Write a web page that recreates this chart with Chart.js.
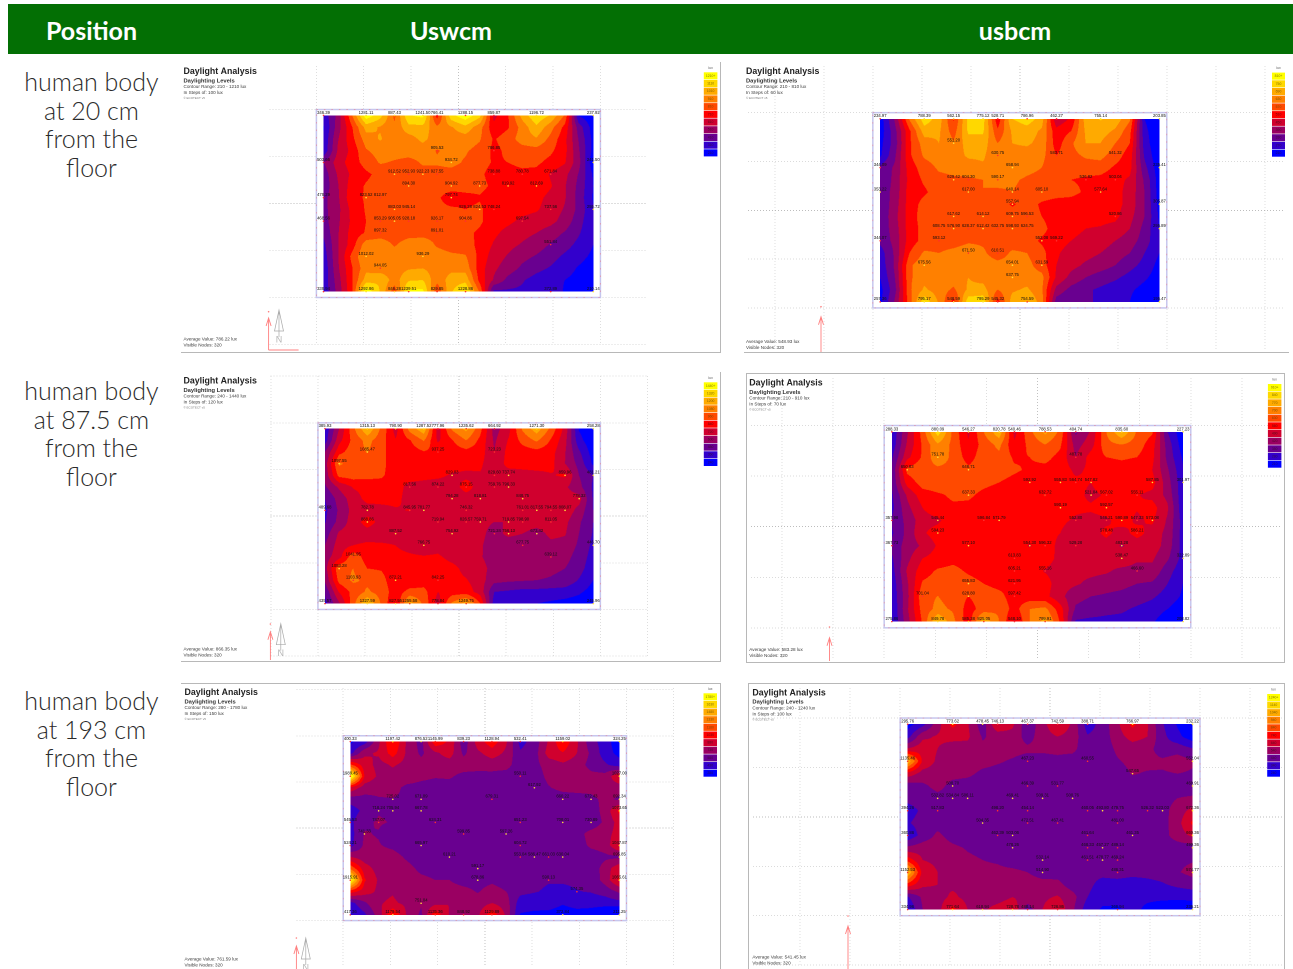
<!DOCTYPE html>
<html>
<head>
<meta charset="utf-8">
<script src="https://cdn.jsdelivr.net/npm/chart.js@4"></script>
<style>
  html, body { margin: 0; background: #fff; }
  body { width: 1293px; height: 969px; position: relative; overflow: hidden; }
  #header { position: absolute; left: 8px; top: 4px; width: 1285px; height: 50px; background: #036f04; }
  .head { position: absolute; top: 4px; height: 50px; color: #fff; font: 700 25px/53px Lato, sans-serif; text-align: center; }
  .rowlabel { position: absolute; left: 8px; width: 167px; text-align: center; color: #2a2a2a; font: 300 25px/28.7px Lato, sans-serif; }
  .panel { position: absolute; box-sizing: border-box; }
  .panel canvas { position: absolute; left: 0; top: 0; filter: blur(0.35px); }
</style>
</head>
<body>
<div id="header"></div>
<div class="head" style="left:8px;width:167px">Position</div>
<div class="head" style="left:175px;width:552px">Uswcm</div>
<div class="head" style="left:740px;width:550px">usbcm</div>
<div class="rowlabel" style="top:67px">human body<br>at 20 cm<br>from the<br>floor</div>
<div class="rowlabel" style="top:376px">human body<br>at 87.5 cm<br>from the<br>floor</div>
<div class="rowlabel" style="top:686px">human body<br>at 193 cm<br>from the<br>floor</div>
<script>
const bandColors = ["#0000ff", "#3300cc", "#690090", "#9a0062", "#d0002e", "#ff0000", "#ff4a00", "#ff8000", "#ffaa00", "#ffd800", "#ffff00"];

// Lux at each of the 20 x 16 analysis nodes
const luxA = [
  [346,540,900,1281,1150,887,1200,1241,766,1180,1288,1150,680,800,1050,1196,1100,900,300,238],
  [300,560,800,1050,1000,930,1080,1080,930,1000,1080,950,740,800,950,1090,950,780,460,260],
  [320,600,780,960,1020,950,960,1040,950,960,960,920,800,860,960,1000,880,740,500,280],
  [330,620,740,900,950,950,950,950,905,930,920,880,786,830,860,870,830,740,520,280],
  [503,660,760,850,920,900,880,920,920,934,900,850,800,810,830,830,780,720,540,241],
  [450,620,730,790,840,880,890,880,880,880,860,830,770,780,790,780,700,640,500,300],
  [440,600,760,820,850,870,890,870,860,860,850,840,790,780,770,780,720,620,480,310],
  [479,590,780,820,830,860,880,860,830,750,780,800,760,760,760,740,680,620,470,300],
  [480,580,740,820,860,890,890,870,840,830,810,830,750,750,740,720,670,600,480,320],
  [469,590,730,810,850,890,900,880,880,880,870,830,750,730,690,670,640,570,450,320],
  [430,600,750,820,860,860,870,880,880,870,840,790,730,680,640,610,560,500,420,320],
  [380,600,760,970,970,900,960,960,900,870,860,780,700,640,600,560,500,450,380,310],
  [350,600,840,1010,950,960,980,970,950,930,920,780,660,600,540,500,450,390,340,290],
  [330,590,800,980,950,960,1000,1010,960,980,970,760,630,560,490,440,400,350,300,260],
  [340,560,800,1060,1100,960,1100,1110,940,1060,1080,780,600,480,420,370,340,310,280,240],
  [340,540,790,1293,1100,846,1240,1240,830,1100,1229,900,380,390,390,380,373,300,220,210]
];
const luxB = [
  [235,400,640,789,720,562,770,775,529,750,787,720,462,520,720,755,730,640,270,204],
  [235,370,560,720,700,600,760,760,580,700,720,680,530,570,700,720,680,590,290,210],
  [250,360,560,660,690,640,720,720,630,690,700,670,540,620,690,690,630,570,300,215],
  [260,380,560,640,660,660,700,700,640,670,660,650,570,610,640,650,600,540,320,220],
  [344,400,540,600,640,650,660,680,680,680,650,630,580,600,600,600,560,530,350,230],
  [330,410,530,580,610,620,620,630,650,640,620,610,590,570,560,550,530,500,380,240],
  [353,410,540,560,600,610,620,630,620,630,610,610,600,590,560,550,530,490,390,240],
  [340,420,540,590,610,610,620,620,610,560,600,560,540,540,530,530,530,490,390,250],
  [340,430,540,600,610,620,620,620,620,610,600,570,540,530,530,530,525,470,390,260],
  [345,420,540,590,620,610,625,620,620,620,620,590,540,530,510,505,490,450,370,270],
  [344,410,540,590,600,600,620,620,610,600,600,560,540,510,490,480,450,420,360,280],
  [300,400,570,640,630,650,670,640,600,640,630,590,520,480,470,450,420,390,330,270],
  [290,400,620,670,660,660,670,660,650,650,650,600,510,470,440,420,390,350,310,250],
  [270,390,620,670,650,660,690,670,660,660,660,650,500,430,390,360,340,310,280,240],
  [250,370,620,700,660,620,700,710,630,680,700,640,430,370,340,320,300,280,250,225],
  [250,400,600,795,680,549,790,795,545,720,755,660,360,330,330,330,320,270,215,200]
];
const luxC = [
  [386,720,1050,1315,1050,791,1130,1287,778,1100,1236,1000,665,800,1100,1271,1050,800,350,258],
  [420,800,1000,1120,1010,850,950,1090,820,950,1080,930,700,850,1000,1100,950,760,400,270],
  [600,920,1030,1085,1000,880,900,950,937,900,920,900,723,880,900,920,890,730,500,300],
  [660,1097,1040,1020,1000,880,890,900,900,880,870,860,760,880,890,900,880,720,560,340],
  [640,1000,1020,1000,980,890,880,870,860,829,820,830,790,780,790,800,830,860,600,481],
  [580,740,850,880,900,880,810,800,790,800,875,800,760,790,780,770,770,740,640,460],
  [480,650,780,880,880,870,800,780,780,790,800,810,780,780,830,780,760,770,770,470],
  [450,620,760,782,800,830,845,790,770,750,746,760,740,760,760,800,790,800,680,480],
  [470,640,780,890,800,780,770,760,720,750,800,740,720,720,790,770,800,750,620,480],
  [540,740,780,790,770,780,770,750,740,750,750,740,690,740,720,670,750,730,600,470],
  [600,780,840,860,860,840,800,760,790,750,740,730,680,670,670,640,690,680,580,450],
  [660,800,1040,900,880,870,860,850,860,800,770,730,670,650,640,640,640,640,550,430],
  [670,1053,1080,960,950,890,880,890,900,880,800,760,680,650,640,640,620,600,530,400],
  [620,1000,1104,1050,1000,880,870,900,860,880,850,770,640,620,610,600,590,570,470,360],
  [500,850,1000,1100,1030,900,1000,1000,840,900,900,790,480,460,440,440,430,420,380,310],
  [436,700,1040,1327,1060,828,1255,1050,779,1100,1250,960,410,400,390,360,340,320,300,246]
];
const luxD = [
  [288,480,660,880,680,546,700,821,540,680,789,680,405,500,700,836,690,640,350,227],
  [300,500,640,760,680,570,660,720,570,650,700,640,460,530,680,700,670,590,390,240],
  [340,540,640,752,680,600,670,680,620,630,650,610,488,590,630,640,630,580,400,270],
  [360,650,680,680,680,646,670,660,640,620,610,600,545,575,590,600,590,560,430,290],
  [360,590,660,670,660,650,640,630,610,593,600,580,575,560,600,600,600,588,450,302],
  [340,500,600,620,640,637,620,610,600,600,633,590,580,545,567,590,565,540,470,300],
  [330,470,560,610,620,620,610,610,600,600,600,590,570,570,593,590,565,590,500,300],
  [358,440,530,545,610,610,597,590,600,600,590,570,553,540,546,591,547,573,480,320],
  [340,440,550,594,620,610,600,600,600,590,580,560,530,530,578,530,586,530,470,320],
  [368,450,500,570,590,577,600,590,590,554,596,540,529,530,530,483,520,530,460,320],
  [340,470,560,590,610,600,600,590,614,600,590,540,520,520,510,538,500,500,430,323],
  [320,500,600,640,650,620,600,600,605,590,555,530,510,510,500,470,467,470,380,300],
  [300,480,640,660,680,656,630,610,622,600,590,520,500,470,450,440,420,410,350,280],
  [290,470,680,701,670,629,665,650,597,590,580,510,440,420,410,400,380,360,320,270],
  [280,480,660,720,690,600,660,690,600,700,720,590,410,390,370,360,340,320,280,240],
  [276,460,640,850,720,585,825,700,548,700,800,620,340,330,330,330,320,290,230,209]
];
const luxE = [
  [400,500,850,1197,850,670,1146,1000,640,950,1129,900,532,640,900,1159,900,640,500,324],
  [520,850,900,1100,850,700,850,950,700,850,950,850,600,660,950,1020,880,700,500,380],
  [1200,950,830,900,830,790,800,800,800,780,800,800,620,690,790,850,800,680,600,500],
  [1989,1020,850,820,800,760,740,750,690,690,680,650,620,650,770,780,800,770,780,1027],
  [1000,800,770,770,700,690,680,670,650,640,640,640,620,640,720,770,780,780,830,800],
  [650,680,720,725,710,670,660,660,640,640,640,640,640,640,650,660,670,690,770,700],
  [500,620,718,706,660,668,650,640,630,620,620,620,630,620,620,640,640,660,780,1074],
  [545,700,747,720,640,620,624,620,600,600,600,620,640,630,610,640,640,640,760,950],
  [520,741,720,620,610,620,610,600,600,600,600,597,610,610,620,620,680,780,820,950],
  [524,760,740,700,650,666,620,620,600,600,600,600,605,610,610,630,660,760,800,1048],
  [880,800,780,780,710,650,620,610,600,600,610,590,590,590,610,630,640,650,700,696],
  [1300,950,820,780,770,700,680,640,620,620,640,620,600,600,600,600,620,630,800,1000],
  [1916,1050,860,840,790,760,730,730,680,679,700,660,620,610,590,600,610,620,800,1065],
  [1100,950,850,870,800,770,780,780,770,720,790,730,620,590,560,540,574,590,640,760],
  [520,700,870,900,850,751,840,880,800,800,880,800,500,490,480,440,480,490,500,520],
  [417,550,800,1180,860,700,1135,870,850,850,1130,850,420,400,400,373,380,350,260,212]
];
const luxF = [
  [296,400,600,774,650,478,746,660,467,600,743,620,389,480,620,767,650,450,330,232],
  [400,620,650,660,660,530,570,600,500,590,640,600,450,480,600,680,640,470,370,280],
  [650,700,640,610,600,560,570,570,560,560,570,570,470,480,560,590,580,480,500,450],
  [1135,720,620,600,590,570,550,530,500,500,510,490,460,480,530,570,570,560,590,552],
  [700,600,590,570,560,520,510,500,490,480,480,480,460,470,490,548,530,530,540,530],
  [480,520,570,510,500,490,490,480,470,480,500,480,470,470,480,490,490,490,480,461],
  [470,490,510,510,500,490,480,470,470,490,480,480,470,470,480,490,490,500,540,560],
  [395,460,490,490,480,490,498,480,454,470,480,480,460,470,480,490,500,500,590,670],
  [430,480,500,500,490,504,480,470,470,470,470,470,470,470,480,490,500,500,600,760],
  [360,480,560,500,480,480,470,490,470,470,470,470,460,470,470,461,480,500,590,660],
  [560,590,590,560,530,510,490,480,470,480,480,470,470,460,490,470,470,490,490,490],
  [800,640,620,600,560,540,530,500,490,510,500,480,460,480,470,460,470,480,520,530],
  [1152,700,640,620,590,560,560,560,540,515,500,480,470,470,486,470,470,480,530,575],
  [800,660,640,620,620,600,590,590,570,560,570,490,470,400,400,390,410,430,460,480],
  [430,560,600,660,610,590,590,640,600,620,650,580,440,370,360,360,360,360,370,380],
  [335,540,600,772,640,619,680,729,488,640,727,560,380,330,330,367,320,290,250,236]
];

// Labelled sensor nodes: [column, row, lux]
const sensorsA = [[0,0,346.39],[3,0,1281.11],[5,0,887.43],[7,0,1241.50],[8,0,766.41],[10,0,1288.15],[12,0,859.87],[15,0,1196.72],[19,0,237.92],[8,3,905.53],[12,3,786.85],[0,4,503.66],[9,4,934.72],[19,4,241.50],[5,5,912.52],[6,5,952.93],[7,5,922.23],[8,5,927.55],[12,5,738.88],[14,5,780.78],[16,5,671.84],[6,6,894.30],[9,6,904.92],[11,6,877.73],[13,6,819.92],[15,6,812.69],[0,7,479.29],[3,7,823.52],[4,7,812.97],[9,7,797.74],[5,8,883.03],[6,8,945.14],[10,8,826.28],[11,8,824.53],[12,8,748.24],[16,8,737.56],[19,8,255.72],[0,9,468.56],[4,9,853.29],[5,9,905.05],[6,9,928.18],[8,9,926.17],[10,9,904.86],[14,9,697.54],[4,10,897.32],[8,10,891.01],[16,11,551.84],[3,12,1012.02],[7,12,936.29],[4,13,944.05],[0,15,339.94],[3,15,1292.86],[5,15,846.28],[6,15,1239.51],[8,15,829.85],[10,15,1228.86],[16,15,372.89],[19,15,210.14]];
const sensorsB = [[0,0,234.97],[3,0,788.39],[5,0,562.15],[7,0,775.12],[8,0,528.71],[10,0,786.96],[12,0,462.27],[15,0,755.14],[19,0,203.85],[5,2,551.20],[8,3,630.75],[12,3,583.71],[16,3,541.32],[0,4,344.09],[9,4,658.94],[19,4,235.41],[5,5,629.42],[6,5,604.30],[8,5,590.17],[14,5,536.82],[16,5,503.04],[0,6,353.22],[6,6,617.00],[9,6,640.14],[11,6,605.10],[15,6,577.64],[9,7,557.94],[19,7,305.87],[5,8,617.62],[7,8,614.12],[9,8,609.75],[10,8,596.53],[16,8,520.86],[4,9,608.75],[5,9,576.90],[6,9,628.37],[7,9,612.42],[8,9,632.75],[9,9,598.93],[10,9,624.75],[19,9,295.89],[0,10,344.07],[4,10,593.12],[11,10,552.08],[12,10,569.22],[6,11,671.50],[8,11,610.51],[3,12,675.56],[9,12,654.01],[11,12,631.59],[9,13,637.75],[0,15,257.36],[3,15,795.17],[5,15,548.59],[7,15,795.29],[8,15,545.32],[10,15,754.59],[19,15,195.47]];
const sensorsC = [[0,0,385.93],[3,0,1315.13],[5,0,790.90],[7,0,1287.52],[8,0,777.96],[10,0,1235.62],[12,0,664.92],[15,0,1271.30],[19,0,258.28],[3,2,1085.47],[8,2,937.25],[12,2,723.23],[1,3,1097.55],[9,4,829.03],[12,4,829.60],[13,4,737.74],[17,4,859.96],[19,4,481.21],[6,5,817.56],[8,5,874.22],[10,5,875.15],[12,5,759.76],[13,5,796.33],[9,6,794.28],[11,6,818.81],[14,6,848.75],[18,6,778.32],[0,7,489.68],[3,7,782.78],[6,7,845.95],[7,7,781.77],[10,7,746.32],[14,7,761.01],[15,7,817.55],[16,7,794.55],[17,7,808.07],[3,8,888.86],[8,8,719.94],[10,8,826.57],[11,8,759.71],[13,8,719.85],[14,8,798.90],[16,8,811.05],[5,9,887.52],[9,9,754.92],[12,9,721.24],[13,9,756.13],[15,9,673.42],[7,10,766.75],[14,10,677.75],[19,10,446.70],[2,11,1041.95],[16,11,639.12],[1,12,1053.28],[2,13,1103.93],[5,13,872.21],[8,13,842.25],[0,15,435.57],[3,15,1327.59],[5,15,827.55],[6,15,1255.58],[8,15,778.84],[10,15,1249.75],[19,15,245.96]];
const sensorsD = [[0,0,288.33],[3,0,880.09],[5,0,546.27],[7,0,820.78],[8,0,540.46],[10,0,788.53],[12,0,404.74],[15,0,835.60],[19,0,227.23],[3,2,751.78],[12,2,487.78],[1,3,650.83],[5,3,646.71],[9,4,592.92],[11,4,555.83],[12,4,564.74],[13,4,547.82],[17,4,587.85],[19,4,301.97],[5,5,637.33],[10,5,632.72],[13,5,521.84],[14,5,567.02],[16,5,555.11],[11,6,590.19],[14,6,592.57],[0,7,357.98],[3,7,545.44],[6,7,596.84],[7,7,571.79],[12,7,552.80],[14,7,546.21],[15,7,590.89],[16,7,547.33],[17,7,573.08],[3,8,594.23],[14,8,578.48],[16,8,586.21],[0,9,367.73],[5,9,577.10],[9,9,554.30],[10,9,596.32],[12,9,529.28],[15,9,483.28],[8,10,613.83],[15,10,538.47],[19,10,322.89],[8,11,605.21],[10,11,555.16],[16,11,466.60],[5,12,655.83],[8,12,621.95],[2,13,701.04],[5,13,628.80],[8,13,597.42],[0,15,275.86],[3,15,849.78],[5,15,585.38],[6,15,825.05],[8,15,548.10],[10,15,799.91],[19,15,208.82]];
const sensorsE = [[0,0,400.33],[3,0,1197.42],[5,0,876.52],[6,0,1145.99],[8,0,839.23],[10,0,1128.94],[12,0,532.41],[15,0,1159.02],[19,0,324.25],[0,3,1989.45],[12,3,550.11],[19,3,1027.00],[13,4,617.92],[3,5,725.02],[5,5,671.09],[10,5,679.31],[15,5,660.22],[17,5,672.43],[19,5,692.34],[2,6,718.24],[3,6,705.94],[5,6,667.78],[19,6,1073.65],[0,7,545.53],[2,7,747.07],[6,7,624.31],[12,7,651.23],[15,7,708.01],[17,7,730.89],[1,8,741.33],[8,8,599.85],[11,8,597.26],[0,9,524.21],[5,9,665.97],[12,9,604.72],[19,9,1047.87],[7,10,610.21],[12,10,553.04],[13,10,586.47],[14,10,661.03],[15,10,630.04],[19,10,695.85],[9,11,591.17],[0,12,1915.91],[9,12,678.86],[14,12,590.13],[19,12,1065.61],[16,13,574.35],[5,14,751.04],[0,15,417.36],[3,15,1179.54],[6,15,1135.36],[8,15,848.92],[10,15,1129.89],[15,15,372.84],[19,15,211.25]];
const sensorsF = [[0,0,295.76],[3,0,773.62],[5,0,478.45],[6,0,746.13],[8,0,467.37],[10,0,742.59],[12,0,388.71],[15,0,766.97],[19,0,232.22],[0,3,1135.46],[8,3,467.23],[12,3,460.55],[19,3,552.04],[15,4,547.65],[3,5,508.70],[8,5,466.39],[10,5,531.77],[19,5,460.91],[2,6,532.82],[3,6,534.84],[4,6,506.11],[7,6,469.41],[9,6,509.31],[11,6,500.76],[0,7,394.26],[2,7,517.83],[6,7,498.20],[8,7,454.14],[12,7,460.05],[13,7,493.80],[14,7,479.75],[16,7,526.32],[17,7,523.03],[19,7,672.36],[5,8,504.35],[8,8,472.51],[10,8,467.41],[14,8,481.00],[0,9,360.86],[6,9,462.39],[7,9,503.06],[12,9,461.64],[15,9,461.35],[19,9,660.36],[7,10,478.26],[12,10,468.33],[13,10,457.27],[14,10,489.14],[19,10,490.36],[9,11,532.14],[12,11,461.51],[13,11,478.77],[14,11,469.24],[0,12,1152.53],[9,12,514.90],[14,12,486.31],[19,12,574.77],[0,15,334.96],[3,15,771.64],[5,15,618.94],[7,15,728.78],[8,15,488.14],[10,15,726.86],[14,15,366.94],[19,15,236.21]];

// Contour legend tick labels, low to high
const levelsA = [210,310,410,510,610,710,810,910,1010,1110,1210];
const levelsB = [210,270,330,390,450,510,570,630,690,750,810];
const levelsC = [240,360,480,600,720,840,960,1080,1200,1320,1440];
const levelsD = [210,280,350,420,490,560,630,700,770,840,910];
const levelsE = [280,430,580,730,880,1030,1180,1330,1480,1630,1780];
const levelsF = [240,340,440,540,640,740,840,940,1040,1140,1240];

const averages = [786.22, 548.93, 866.35, 583.28, 761.59, 541.45];

// Page layout of each panel, in px
const panels = [
  { lux: luxA, sensors: sensorsA, levels: levelsA, box: [181,62,540,291], plot: [323.5,114,593.3,291.3], grid: [269.7,64.3,647.5,345], legend: [703.8,72,717.4,156.7], textX: 183.5, textY: 71.7, avgY: 339, arrow: [268.6,318,350,311.7], north: 279, baseAxis: true, sides: "right bottom" },
  { lux: luxB, sensors: sensorsB, levels: levelsB, box: [744,62,545,291], plot: [877.9,117.7,1160.8,304], grid: [744,64,1288,352], legend: [1272,72.3,1285,157], textX: 746, textY: 71.7, avgY: 341.7, arrow: [821,316.7,352,306.7], sides: "bottom" },
  { lux: luxC, sensors: sensorsC, levels: levelsC, box: [181,372,540,290], plot: [325,427.3,593.3,603.3], grid: [270.4,374.3,647.5,657], legend: [703.8,382,717.4,466.3], textX: 183.5, textY: 381.3, avgY: 649, arrow: [270.4,631.7,660,624], north: 280.8, sides: "right bottom" },
  { lux: luxD, sensors: sensorsD, levels: levelsD, box: [746,373,539,290], plot: [888.7,429,1183.8,622.7], grid: [746,374,1284,662], legend: [1266.9,382.7,1280.4,467], textX: 748.3, textY: 382.3, avgY: 648.7, arrow: [828.5,636.7,660,626], sides: "top right bottom left" },
  { lux: luxE, sensors: sensorsE, levels: levelsE, box: [181,683,540,286], plot: [350.3,739.7,619.4,916.7], grid: [296.4,685,674.3,969], legend: [703.5,692,717,776], textX: 184.5, textY: 691.7, avgY: 958.3, arrow: [296.4,945,969,937], north: 305.8, sides: "top right" },
  { lux: luxF, sensors: sensorsF, levels: levelsF, box: [748,683,537,286], plot: [905.4,722,1193.5,911.3], grid: [749,685,1284,969], legend: [1266.2,692.7,1279,776], textX: 751.4, textY: 692, avgY: 956, arrow: [847,925,968,915], sides: "top left right" }
];

const textFont = '"Liberation Sans", Arial, sans-serif';
const hexRgb = (hex) => [1, 3, 5].map((i) => parseInt(hex.slice(i, i + 2), 16));
const bandRgb = bandColors.map(hexRgb);

// Filled contour bands, worked out from the node values through the chart scales
const contourPlugin = {
  id: "contours",
  beforeDatasetsDraw(chart) {
    const { ctx, scales: { x, y } } = chart;
    const nodes = chart.data.datasets[0].data;
    const levels = chart.config.options.levelsList;
    const left = x.getPixelForValue(0), right = x.getPixelForValue(19);
    const top = y.getPixelForValue(0), bottom = y.getPixelForValue(15);

    const frameL = x.getPixelForValue(-0.5), frameR = x.getPixelForValue(19.5);
    const frameT = y.getPixelForValue(-0.5), frameB = y.getPixelForValue(15.5);
    ctx.save();
    ctx.fillStyle = "#fff";
    ctx.fillRect(frameL, frameT, frameR - frameL, frameB - frameT);
    ctx.strokeStyle = "#c6c6ee";
    ctx.lineWidth = 1.5;
    ctx.strokeRect(frameL, frameT, frameR - frameL, frameB - frameT);
    ctx.strokeStyle = "rgba(255,90,90,0.5)";
    ctx.lineWidth = 0.7;
    ctx.setLineDash([1.5, 6]);
    ctx.strokeRect(frameL, frameT, frameR - frameL, frameB - frameT);
    ctx.setLineDash([]);

    const w = Math.round((right - left) * 2), h = Math.round((bottom - top) * 2);
    const off = document.createElement("canvas");
    off.width = w;
    off.height = h;
    const octx = off.getContext("2d");
    const img = octx.createImageData(w, h);
    const step = levels[1] - levels[0];
    for (let j = 0; j < h; j++) {
      const row = y.getValueForPixel(top + (j + 0.5) / 2);
      const r0 = Math.min(14, Math.floor(row)), fr = row - r0;
      for (let i = 0; i < w; i++) {
        const col = x.getValueForPixel(left + (i + 0.5) / 2);
        const c0 = Math.min(18, Math.floor(col)), fc = col - c0;
        const a = nodes[r0 * 20 + c0].lux, b = nodes[r0 * 20 + c0 + 1].lux;
        const c = nodes[(r0 + 1) * 20 + c0].lux, d = nodes[(r0 + 1) * 20 + c0 + 1].lux;
        const v = (a * (1 - fc) + b * fc) * (1 - fr) + (c * (1 - fc) + d * fc) * fr;
        const band = Math.max(0, Math.min(10, Math.floor((v - levels[0]) / step)));
        const p = (j * w + i) * 4, rgb = bandRgb[band];
        img.data[p] = rgb[0];
        img.data[p + 1] = rgb[1];
        img.data[p + 2] = rgb[2];
        img.data[p + 3] = 255;
      }
    }
    octx.putImageData(img, 0, 0);
    ctx.drawImage(off, left, top, right - left, bottom - top);
    ctx.restore();
  },
  afterDatasetsDraw(chart) {
    const { ctx, scales: { x, y } } = chart;
    ctx.save();
    ctx.font = `4.2px ${textFont}`;
    ctx.fillStyle = "#111";
    ctx.textAlign = "center";
    ctx.textBaseline = "alphabetic";
    chart.data.datasets[1].data.forEach((s) => {
      ctx.fillText(s.lux.toFixed(2), x.getPixelForValue(s.x), y.getPixelForValue(s.y) - 1.6);
    });
    ctx.restore();
  }
};

// Panel captions, colour key and site markers around the plot
const annotationPlugin = {
  id: "annotations",
  afterDraw(chart) {
    const { ctx } = chart;
    const p = chart.config.options.panel;
    const ox = p.box[0], oy = p.box[1];
    const tx = p.textX - ox, ty = p.textY - oy;
    const lo = p.levels[0], hi = p.levels[10], step = p.levels[1] - p.levels[0];
    ctx.save();
    ctx.textBaseline = "middle";
    ctx.textAlign = "left";
    ctx.fillStyle = "#222";
    ctx.font = `bold 8.8px ${textFont}`;
    ctx.fillText("Daylight Analysis", tx, ty);
    ctx.fillStyle = "#333";
    ctx.font = `bold 5.8px ${textFont}`;
    ctx.fillText("Daylighting Levels", tx, ty + 9);
    ctx.font = `4.6px ${textFont}`;
    ctx.fillStyle = "#3a3a3a";
    ctx.fillText(`Contour Range: ${lo} - ${hi} lux`, tx, ty + 15);
    ctx.fillText(`In Steps of: ${step} lux`, tx, ty + 21);
    ctx.font = `3px ${textFont}`;
    ctx.fillStyle = "#777";
    ctx.fillText("© ECOTECT v5", tx, ty + 26.5);
    ctx.font = `4.6px ${textFont}`;
    ctx.fillStyle = "#3a3a3a";
    ctx.fillText(`Average Value: ${chart.config.options.average.toFixed(2)} lux`, tx, p.avgY - oy);
    ctx.fillText("Visible Nodes: 320", tx, p.avgY - oy + 6);

    const [lx0, ly0, lx1, ly1] = p.legend;
    const rowH = (ly1 - ly0) / 11;
    ctx.textAlign = "center";
    ctx.font = `3.4px ${textFont}`;
    ctx.fillStyle = "#555";
    ctx.fillText("lux", (lx0 + lx1) / 2 - ox, ly0 - oy - 4);
    for (let i = 0; i < 11; i++) {
      const k = 10 - i;
      ctx.fillStyle = bandColors[k];
      ctx.fillRect(lx0 - ox, ly0 - oy + i * rowH + 0.3, lx1 - lx0, rowH - 0.6);
      ctx.fillStyle = k >= 6 ? "#5a4a00" : "#33111a";
      ctx.globalAlpha = 0.75;
      ctx.fillText(p.levels[k] + (k === 10 ? "+" : ""), (lx0 + lx1) / 2 - ox, ly0 - oy + (i + 0.5) * rowH);
      ctx.globalAlpha = 1;
    }

    const [ax, aTop, aBottom, aDot] = p.arrow;
    const arrowX = ax - ox;
    ctx.strokeStyle = "#ff7f7f";
    ctx.fillStyle = "#ff7f7f";
    ctx.lineWidth = 0.9;
    ctx.beginPath();
    ctx.moveTo(arrowX, aBottom - oy);
    ctx.lineTo(arrowX, aTop - oy);
    ctx.moveTo(arrowX - 2.5, aTop - oy + 8);
    ctx.lineTo(arrowX, aTop - oy);
    ctx.lineTo(arrowX + 2.5, aTop - oy + 8);
    ctx.stroke();
    ctx.beginPath();
    ctx.arc(arrowX, aDot - oy, 0.8, 0, Math.PI * 2);
    ctx.fill();
    if (p.baseAxis) {
      ctx.beginPath();
      ctx.moveTo(arrowX, aBottom - oy);
      ctx.lineTo(arrowX + 30, aBottom - oy);
      ctx.stroke();
    }
    if (p.north) {
      const nx = p.north - ox, ntop = aTop - oy - 8;
      ctx.strokeStyle = "#a8a8a8";
      ctx.lineWidth = 0.7;
      ctx.beginPath();
      ctx.moveTo(nx, ntop);
      ctx.lineTo(nx - 4.5, ntop + 21);
      ctx.lineTo(nx + 4.5, ntop + 21);
      ctx.closePath();
      ctx.moveTo(nx, ntop);
      ctx.lineTo(nx, ntop + 27);
      ctx.stroke();
      ctx.fillStyle = "#b5b5b5";
      ctx.font = `9px ${textFont}`;
      ctx.fillText("N", nx, ntop + 30);
    }
    ctx.restore();
  }
};

panels.forEach((p, idx) => {
  const [bx, by, bw, bh] = p.box;
  const wrap = document.createElement("div");
  wrap.className = "panel";
  wrap.style.cssText = `left:${bx}px;top:${by}px;width:${bw}px;height:${bh}px;`;
  p.sides.split(" ").forEach((s) => { wrap.style[`border-${s}`] = "1px solid #b8b8b8"; });
  const canvas = document.createElement("canvas");
  canvas.style.width = bw + "px";
  canvas.style.height = bh + "px";
  wrap.appendChild(canvas);
  document.body.appendChild(wrap);

  const dx = (p.plot[2] - p.plot[0]) / 19, dy = (p.plot[3] - p.plot[1]) / 15;
  const nodes = [];
  p.lux.forEach((row, r) => row.forEach((v, c) => nodes.push({ x: c, y: r, lux: v })));
  const sensors = p.sensors.map(([c, r, v]) => ({ x: c, y: r, lux: v }));

  const axis = (min, max, step, mid, reverse) => ({
    type: "linear",
    min,
    max,
    reverse,
    afterBuildTicks(scale) {
      const ticks = [];
      for (let k = -6; k < 12; k++) {
        const value = -0.5 + k * step;
        if (value >= min && value <= max) ticks.push({ value });
      }
      scale.ticks = ticks;
    },
    ticks: { display: false, autoSkip: false },
    border: { display: false, dash: [1, 2] },
    grid: {
      drawTicks: false,
      lineWidth: 0.7,
      color: (c) => (c.tick && Math.abs(c.tick.value - mid) < 0.01 ? "#a8a8a8" : "#d0d0d0"),
    },
  });

  new Chart(canvas, {
    type: "scatter",
    data: {
      datasets: [
        { label: "Nodes", data: nodes, pointRadius: 0, pointHoverRadius: 0 },
        {
          label: "Sensors",
          data: sensors,
          pointRadius: 0.8,
          pointBorderWidth: 0,
          pointBackgroundColor: sensors.map((s) => (s.x % 2 || s.y === 6 ? "#ffe23a" : "#ff3030")),
        },
      ],
    },
    options: {
      responsive: false,
      animation: false,
      devicePixelRatio: 2,
      panel: p,
      levelsList: p.levels,
      average: averages[idx],
      layout: {
        padding: {
          left: p.grid[0] - bx,
          top: p.grid[1] - by,
          right: bx + bw - p.grid[2],
          bottom: by + bh - p.grid[3],
        },
      },
      plugins: { legend: { display: false }, tooltip: { enabled: false }, title: { display: false } },
      events: [],
      scales: {
        x: axis((p.grid[0] - p.plot[0]) / dx, (p.grid[2] - p.plot[0]) / dx, 10 / 3, 9.5, false),
        y: axis((p.grid[1] - p.plot[1]) / dy, (p.grid[3] - p.plot[1]) / dy, 4, 7.5, true),
      },
    },
    plugins: [contourPlugin, annotationPlugin],
  });
});
</script>
</body>
</html>
